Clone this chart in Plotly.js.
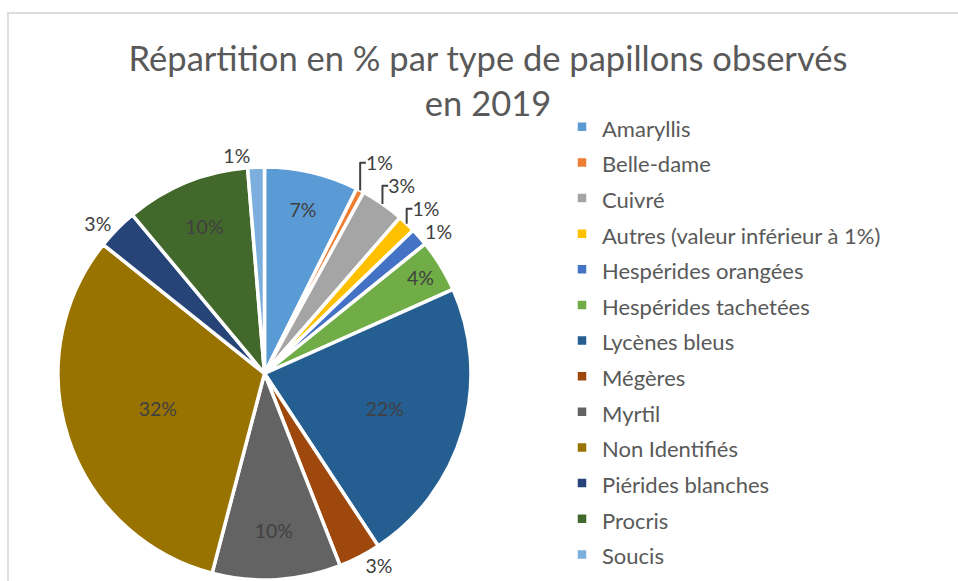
<!DOCTYPE html>
<html>
<head>
<meta charset="utf-8">
<script src="https://cdn.plot.ly/plotly-3.0.1.min.js"></script>
<style>
  html, body { margin: 0; padding: 0; background: #fff; overflow: hidden; }
  #chart { position: absolute; left: 0; top: 0; width: 958px; height: 581px; }
  #frame { position: absolute; left: 7px; top: 12px; width: 1000px; height: 700px;
           border-left: 2px solid #dedede; border-top: 2px solid #dedede; pointer-events: none; }
</style>
</head>
<body>
<div id="chart"></div>
<div id="frame"></div>
<script>
const categories = [
  "Amaryllis", "Belle-dame", "Cuivré", "Autres (valeur inférieur à 1%)",
  "Hespérides orangées", "Hespérides tachetées", "Lycènes bleus", "Mégères",
  "Myrtil", "Non Identifiés", "Piérides blanches", "Procris", "Soucis"
];
const values = [7.33, 0.6, 3.4, 1.4, 1.4, 4.1, 22.3, 3.3, 10.0, 31.5, 3.2, 9.7, 1.3];
const colors = [
  "#5B9BD5", "#ED7D31", "#A5A5A5", "#FFC000", "#4472C4", "#70AD47", "#255E91",
  "#9E480E", "#636363", "#997300", "#264478", "#43682B", "#7CAFDD"
];
const textPositions = [
  "inside", "outside", "outside", "outside", "outside", "inside", "inside",
  "outside", "inside", "inside", "outside", "inside", "outside"
];

const legendLabels = categories.map(c => '<span style="font-size:22px">' + c + '</span>');

const trace = {
  type: "pie",
  labels: legendLabels,
  values: values,
  sort: false,
  direction: "clockwise",
  rotation: 0,
  marker: { colors: colors, line: { color: "#ffffff", width: 3.5 } },
  texttemplate: "%{percent:.0%}",
  textposition: textPositions,
  insidetextorientation: "horizontal",
  textfont: { family: "Lato, 'Open Sans', sans-serif", size: 19.5, color: "#404040" },
  insidetextfont: { color: "#404040" },
  outsidetextfont: { color: "#404040" },
  hoverinfo: "none",
  domain: { x: [58/958, 471/958], y: [1/581, 414/581] },
  automargin: false
};

const layout = {
  width: 958,
  height: 581,
  margin: { l: 0, r: 0, t: 0, b: 0, autoexpand: false },
  paper_bgcolor: "rgba(0,0,0,0)",
  plot_bgcolor: "rgba(0,0,0,0)",
  title: {
    text: "Répartition en % par type de papillons observés<br>en 2019",
    font: { family: "Lato, 'Open Sans', sans-serif", size: 34.5, color: "#595959" },
    x: 488 / 958, xanchor: "center",
    y: 1 - 71 / 581, yanchor: "middle"
  },
  showlegend: true,
  legend: {
    x: 562 / 958, xanchor: "left",
    y: 1 - 104 / 581, yanchor: "top",
    font: { family: "Lato, 'Open Sans', sans-serif", size: 25.1, color: "#595959" },
    bgcolor: "rgba(0,0,0,0)",
    itemclick: false, itemdoubleclick: false
  }
};

Plotly.newPlot("chart", [trace], layout, { displayModeBar: false, staticPlot: true });
</script>
</body>
</html>
